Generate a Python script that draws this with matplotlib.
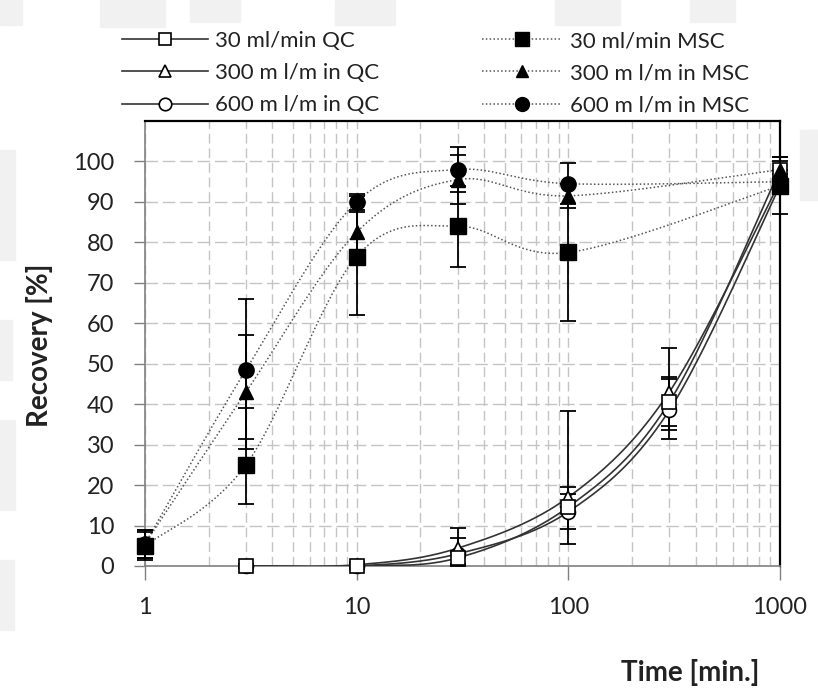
import matplotlib
matplotlib.use('Agg')
import matplotlib.pyplot as plt
import numpy as np
from matplotlib.patches import Rectangle
from matplotlib.lines import Line2D

plt.rcParams['font.family'] = ['Lato', 'DejaVu Sans']

# data
time_msc = [1, 3, 10, 30, 100, 1000]
time_qc = [3, 10, 30, 100, 300, 1000]

msc_30 = [5, 25, 76.5, 84, 77.5, 94]
msc_300 = [5.5, 43, 82.5, 95.5, 91.5, 98]
msc_600 = [5.5, 48.5, 90, 98, 94.5, 95]
msc_30_lo = [3.5, 9.7, 14.5, 10, 17, 7]
msc_30_hi = [3.5, 14, 15, 10, 17, 7]
msc_300_lo = [3.5, 14, 5, 6, 3, 2]
msc_300_hi = [3.5, 14, 5, 6, 3, 2]
msc_600_lo = [3.5, 17, 2, 5.5, 5, 2]
msc_600_hi = [3.5, 17.5, 2, 5.5, 5, 2]

qc_30 = [0, 0, 2, 14.6, 40.5, 98]
qc_300 = [0, 0.3, 4.4, 17, 43, 95]
qc_600 = [0, 0, 3, 13.4, 38.5, 94]
qc_30_lo = [0.5, 0.8, 1.5, 9.2, 9, 3]
qc_30_hi = [0.5, 0.8, 1.5, 23.8, 13.5, 3]
qc_300_lo = [0.5, 0.8, 4, 2.5, 8.3, 3]
qc_300_hi = [0.5, 0.8, 5, 2.5, 3.8, 3]
qc_600_lo = [0.5, 0.8, 3, 4.3, 5, 2]
qc_600_hi = [0.5, 0.8, 4, 4.3, 7.8, 2]

labels_qc = ['30 ml/min QC', '300 m l/m in QC', '600 m l/m in QC']
labels_msc = ['30 ml/min MSC', '300 m l/m in MSC', '600 m l/m in MSC']
markers = ['s', '^', 'o']
sizes = [11, 10, 11]

C_TXT = '#222222'
C_GRID = '#c4c4c4'


def smooth(xs, ys, n=40):
    # Excel style smoothed line (Catmull-Rom bezier) in log-x space
    u = np.log10(np.asarray(xs, float))
    v = np.asarray(ys, float)
    P = np.column_stack([u, v])
    out = []
    for i in range(len(P) - 1):
        p0 = P[i - 1] if i > 0 else P[i]
        p1 = P[i]
        p2 = P[i + 1]
        p3 = P[i + 2] if i + 2 < len(P) else P[i + 1]
        c1 = p1 + (p2 - p0) / 6
        c2 = p2 - (p3 - p1) / 6
        t = np.linspace(0, 1, n)[:, None]
        seg = ((1 - t) ** 3) * p1 + 3 * ((1 - t) ** 2) * t * c1 + 3 * (1 - t) * t ** 2 * c2 + t ** 3 * p2
        out.append(seg if i == 0 else seg[1:])
    out = np.vstack(out)
    return 10 ** out[:, 0], out[:, 1]


def unclip(eb):
    for art in eb.lines[1] + eb.lines[2]:
        art.set_clip_on(False)


fig = plt.figure(figsize=(8.18, 6.88), dpi=100, facecolor='white')

# faint watermark blocks of the scan
for (x0, y0, w, h) in [(0, 0, 22, 25), (100, 0, 65, 27), (190, 0, 50, 22), (335, 0, 60, 25),
                       (555, 0, 65, 25), (690, 0, 45, 22), (0, 150, 15, 110), (0, 320, 12, 60),
                       (0, 420, 15, 90), (0, 560, 14, 70), (800, 130, 18, 70)]:
    fig.patches.append(Rectangle((x0 / 818, 1 - (y0 + h) / 688), w / 818, h / 688,
                                 transform=fig.transFigure, color='#f1f1f1', zorder=-10))

ax = fig.add_axes([145 / 818, 1 - 566 / 688, (780 - 145) / 818, (566 - 121) / 688])
ax.set_xscale('log')
ax.set_xlim(1, 1000)
ax.set_ylim(0, 110)

qc_sets = [(qc_30, qc_30_lo, qc_30_hi), (qc_300, qc_300_lo, qc_300_hi), (qc_600, qc_600_lo, qc_600_hi)]
msc_sets = [(msc_30, msc_30_lo, msc_30_hi), (msc_300, msc_300_lo, msc_300_hi), (msc_600, msc_600_lo, msc_600_hi)]

for (vals, lo, hi), m, ms in zip(msc_sets, markers, sizes):
    sx, sy = smooth(time_msc, vals)
    ax.plot(sx, sy, color='#555555', lw=1.1, ls=(0, (1, 1.5)), zorder=3)
    eb = ax.errorbar(time_msc, vals, yerr=[lo, hi], fmt='none', ecolor='black', elinewidth=1.3,
                     capsize=5.8, capthick=1.3, zorder=4)
    unclip(eb)
    ax.plot(time_msc, vals, ls='none', marker=m, ms=ms, color='black', zorder=7, clip_on=False)

# QC drawn in reverse so the open squares end up on top, as in the original
for (vals, lo, hi), m, ms in list(zip(qc_sets, markers, sizes))[::-1]:
    sx, sy = smooth(time_qc, vals)
    ax.plot(sx, sy, color='#333333', lw=1.2, zorder=3)
    eb = ax.errorbar(time_qc, vals, yerr=[lo, hi], fmt='none', ecolor='black', elinewidth=1.3,
                     capsize=5.8, capthick=1.3, zorder=4)
    unclip(eb)
    ax.plot(time_qc, vals, ls='none', marker=m, ms=ms - 1, mfc='white', mec='black', mew=1.2,
            zorder=6, clip_on=False)

# grid and axes styling
ax.set_axisbelow(True)
ax.grid(which='both', axis='x', color=C_GRID, lw=1, ls=(0, (7, 3.5)))
ax.grid(which='major', axis='y', color=C_GRID, lw=1, ls=(0, (9, 3.5)))
ax.set_yticks(np.arange(0, 101, 10))
ax.set_xticks([1, 10, 100, 1000])
ax.set_xticklabels(['1', '10', '100', '1000'])
ax.tick_params(axis='x', which='major', direction='out', length=10, width=1, color='#808080',
               pad=12, labelsize=17, labelcolor=C_TXT)
ax.tick_params(axis='x', which='minor', length=0)
ax.tick_params(axis='y', direction='out', length=8, width=1, color='#808080',
               pad=14, labelsize=17, labelcolor=C_TXT)
for s in ['left', 'bottom']:
    ax.spines[s].set_color('#808080')
    ax.spines[s].set_linewidth(1.2)
for s in ['top', 'right']:
    ax.spines[s].set_color('black')
    ax.spines[s].set_linewidth(1.6)

fig.text(40 / 818, 1 - 345 / 688, 'Recovery [%]', rotation=90, ha='center', va='center',
         fontsize=20, fontweight='bold', color=C_TXT)
fig.text(690 / 818, 1 - 673 / 688, 'Time [min.]', ha='center', va='center',
         fontsize=20, fontweight='bold', color=C_TXT)

# legends
h_qc = [Line2D([], [], color='#333333', lw=1.2, marker=m, ms=ms - 2, mfc='white', mec='black', mew=1.2)
        for m, ms in zip(markers, sizes)]
h_msc = [Line2D([], [], color='#555555', lw=1.1, ls=(0, (1, 1.5)), marker=m, ms=ms - 1,
                mfc='black', mec='black')
         for m, ms in zip(markers, sizes)]
common = dict(frameon=False, fontsize=16, labelspacing=0.55, borderpad=0, borderaxespad=0,
              handletextpad=0.35, loc='upper left', labelcolor=C_TXT)
fig.legend(h_qc, labels_qc, bbox_to_anchor=(122 / 818, 1 - 31 / 688), handlelength=3.85, **common)
fig.legend(h_msc, labels_msc, bbox_to_anchor=(482 / 818, 1 - 31 / 688), handlelength=3.6, **common)

fig.savefig('out.png', dpi=100, facecolor='white')
